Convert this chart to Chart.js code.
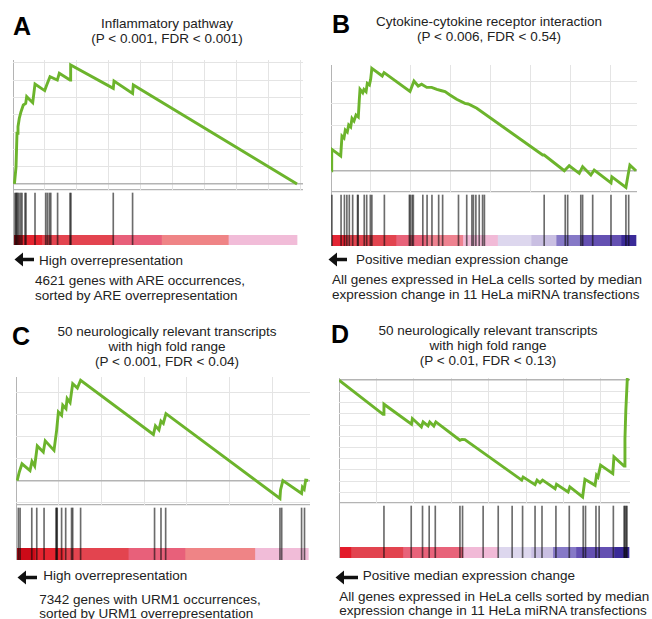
<!DOCTYPE html>
<html><head><meta charset="utf-8">
<script src="https://cdn.jsdelivr.net/npm/chart.js@4.4.1/dist/chart.umd.min.js"></script>
<style>
html,body{margin:0;padding:0;background:#fff;}
body{width:652px;height:619px;position:relative;overflow:hidden;font-family:"Liberation Sans",Arial,sans-serif;color:#222;}
.abs{position:absolute;}
.letter{font-weight:bold;font-size:25px;line-height:25px;color:#000;}
.t{font-size:13.5px;line-height:15px;white-space:nowrap;}
.t3{line-height:15.3px;}
.c{text-align:center;transform:translateX(-50%);}
canvas{position:absolute;}
</style></head><body>

<div class="abs letter" style="left:13px;top:14px">A</div>
<div class="abs t c" style="left:167px;top:16px">Inflammatory pathway<br>(P &lt; 0.001, FDR &lt; 0.001)</div>
<div class="abs letter" style="left:332px;top:12px">B</div>
<div class="abs t c" style="left:489px;top:13.5px">Cytokine-cytokine receptor interaction<br>(P &lt; 0.006, FDR &lt; 0.54)</div>
<div class="abs letter" style="left:12px;top:324px">C</div>
<div class="abs t t3 c" style="left:167px;top:323.5px">50 neurologically relevant transcripts<br>with high fold range<br>(P &lt; 0.001, FDR &lt; 0.04)</div>
<div class="abs letter" style="left:331px;top:322px">D</div>
<div class="abs t t3 c" style="left:488px;top:322.5px">50 neurologically relevant transcripts<br>with high fold range<br>(P &lt; 0.01, FDR &lt; 0.13)</div>

<svg class="abs" style="left:14px;top:252px" width="21" height="15"><polygon points="0.5,7.5 9,0.5 9,5.7 20,5.7 20,9.3 9,9.3 9,14.5" fill="#111"/></svg>
<div class="abs t" style="left:39px;top:252.5px">High overrepresentation</div>
<div class="abs t" style="left:35px;top:274.2px;line-height:14.7px">4621 genes with ARE occurrences,<br>sorted by ARE overrepresentation</div>

<svg class="abs" style="left:328px;top:251.5px" width="21" height="15"><polygon points="0.5,7.5 9,0.5 9,5.7 19,5.7 19,9.3 9,9.3 9,14.5" fill="#111"/></svg>
<div class="abs t" style="left:356px;top:251.8px">Positive median expression change</div>
<div class="abs t" style="left:332px;top:273.2px;line-height:14.5px">All genes expressed in HeLa cells sorted by median<br>expression change in 11 HeLa miRNA transfections</div>

<svg class="abs" style="left:17px;top:569.5px" width="22" height="15"><polygon points="0.5,7.5 9,0.5 9,5.7 20,5.7 20,9.3 9,9.3 9,14.5" fill="#111"/></svg>
<div class="abs t" style="left:43.3px;top:568.2px">High overrepresentation</div>
<div class="abs t" style="left:39.3px;top:592.5px;line-height:14px">7342 genes with URM1 occurrences,<br>sorted by URM1 overrepresentation</div>

<svg class="abs" style="left:335px;top:569.5px" width="25" height="15"><polygon points="0.5,7.5 9,0.5 9,5.7 23,5.7 23,9.3 9,9.3 9,14.5" fill="#111"/></svg>
<div class="abs t" style="left:362.7px;top:567.5px">Positive median expression change</div>
<div class="abs t" style="left:339.3px;top:590.2px;line-height:14px">All genes expressed in HeLa cells sorted by median<br>expression change in 11 HeLa miRNA transfections</div>

<script>
// ---- Data (x = position in ranked gene list, % of list; y = running enrichment score) ----
const rankA = [0.5, 1.06, 1.41, 1.76, 2.22, 2.82, 3.63, 4.47, 4.82, 6.94, 7.75, 11.16, 11.87, 13.03, 15.6, 16.3, 20.07, 20.2, 20.4, 35.3, 35.56, 42.1, 42.36, 100];
const esA   = [0, 0.097, 0.293, 0.331, 0.380, 0.418, 0.457, 0.466, 0.505, 0.470, 0.578, 0.540, 0.572, 0.620, 0.601, 0.640, 0.601, 0.618, 0.688, 0.553, 0.595, 0.524, 0.572, 0];
const hitsA = [0.7, 1.06, 1.29, 1.64, 2.11, 2.7, 3.17, 4.23, 4.58, 7.75, 11.5, 12.1, 12.8, 13.3, 15.7, 20.07, 20.4, 35.3, 42.1];
const barEdgesA = [0, 2.5, 10.1, 35.3, 52.3, 75.8, 100];

const rankB = [0.2, 0.23, 3.18, 3.6, 4.26, 4.69, 5.34, 5.8, 6.46, 6.89, 7.54, 8.2, 8.95, 9.28, 9.51, 10.4, 10.8, 11.5, 11.9, 12.6, 13.0, 13.4, 16.8, 17.4, 25.9, 27.2, 28.6, 29.7, 31.4, 33.0, 34.7, 36.3, 37.4, 39.0, 41.2, 43.9, 45.0, 47.8, 69.4, 69.9, 76.5, 78.1, 81.4, 82.5, 85.2, 86.3, 91.8, 92.1, 96.7, 97.3, 98.0, 100];
const esB   = [0, 0.096, 0.066, 0.155, 0.146, 0.182, 0.173, 0.204, 0.195, 0.234, 0.222, 0.249, 0.240, 0.316, 0.363, 0.348, 0.363, 0.353, 0.390, 0.383, 0.408, 0.457, 0.423, 0.438, 0.354, 0.400, 0.378, 0.386, 0.372, 0.372, 0.363, 0.357, 0.353, 0.338, 0.319, 0.301, 0.298, 0.279, 0.070, 0.070, 0.0, 0.022, -0.012, 0.018, -0.019, 0.003, -0.054, -0.027, -0.074, -0.027, 0.025, 0];
const hitsB = [0.3, 3.3, 4.4, 5.2, 6.0, 7.1, 8.7, 8.9, 10.9, 11.7, 12.9, 13.4, 17.5, 25.7, 26.0, 26.6, 27.0, 30.1, 31.5, 33.1, 35.3, 36.6, 41.8, 44.5, 46.2, 46.7, 47.5, 48.6, 49.7, 50.3, 69.9, 76.8, 77.6, 81.9, 82.5, 85.8, 91.8, 96.7, 97.6];
const barEdgesB = [0, 4.9, 21.3, 31.1, 43.2, 54.6, 65.6, 73.8, 82.0, 95.1, 100];

const rankC = [0.4, 1.13, 2.05, 4.79, 5.47, 6.39, 7.28, 9.33, 10.0, 13.0, 13.9, 14.5, 15.6, 16.0, 17.1, 17.5, 18.5, 19.4, 21.0, 22.1, 47.0, 47.7, 48.9, 49.6, 50.4, 51.3, 90.3, 90.5, 91.3, 97.7, 98.0, 98.6, 99.1, 99.9];
const esC   = [0, 0.039, 0.076, 0.045, 0.087, 0.066, 0.157, 0.130, 0.180, 0.137, 0.228, 0.311, 0.296, 0.342, 0.326, 0.372, 0.354, 0.440, 0.420, 0.455, 0.209, 0.248, 0.230, 0.270, 0.259, 0.304, -0.081, -0.043, 0.0, -0.059, -0.030, -0.039, 0.002, 0];
const hitsC = [0.8, 1.4, 5.4, 7.1, 9.6, 13.7, 13.9, 14.1, 15.6, 17.0, 19.0, 19.4, 22.1, 47.4, 49.6, 51.2, 90.3, 90.9, 97.7, 98.7];
const barEdgesC = [0, 6.5, 16.2, 38.4, 57.8, 81.7, 100];

const rankD = [0, 15.2, 15.5, 25.0, 25.3, 28.4, 29.0, 30.7, 31.3, 32.7, 33.4, 41.7, 42.4, 43.4, 63.0, 63.5, 67.6, 68.3, 69.3, 70.2, 74.5, 75.0, 79.0, 79.6, 84.0, 84.8, 88.3, 88.8, 89.3, 90.2, 94.4, 94.8, 98.3, 98.6, 98.9, 99.4, 100];
const esD   = [0, -0.152, -0.107, -0.196, -0.171, -0.208, -0.186, -0.204, -0.186, -0.204, -0.186, -0.268, -0.264, -0.265, -0.446, -0.432, -0.466, -0.446, -0.458, -0.446, -0.484, -0.464, -0.499, -0.476, -0.521, -0.442, -0.469, -0.424, -0.432, -0.379, -0.417, -0.342, -0.383, -0.261, -0.134, 0.004, 0];
const hitsD = [15.5, 24.9, 28.8, 31.1, 33.2, 41.7, 42.6, 49.7, 54.9, 59.7, 63.3, 67.6, 70.0, 74.8, 79.4, 84.2, 85.0, 88.6, 89.7, 94.6, 98.3, 98.6, 99.0, 99.3];
const barEdgesD = [0, 4.1, 22.0, 42.7, 54.7, 66.2, 73.7, 81.7, 94.9, 100];

// ---- Styles / layout ----
const GREEN = '#6cb42c', GRID = '#e4e4e4', AXIS = '#b4b4b4', HIT = 'rgba(10,10,10,0.6)';
const REDS = ['#cc0a18', '#e5242f', '#e3444f', '#e8607a', '#ef8486', '#f1bcd8'];
const barColorsA = REDS, barColorsC = REDS;
const barColorsB = ['#e32534', '#e2444f', '#e8637a', '#ee8290', '#f1bad7', '#ddd7ee', '#c9bfe2', '#8679c7', '#6450b2', '#3a2a98'];
const barColorsD = ['#e31b2a', '#e2444f', '#e8637a', '#f1bad7', '#ddd7ee', '#c9bfe2', '#8679c7', '#6450b2', '#3a2a98'];

const GEOM = {
  A: {left:13, right:303, top:60, bottom:190, barTop:235, barBottom:245, xMax:102.1, yMin:-0.035, yMax:0.717, yStep:0.1, xStep:11.23},
  B: {left:331, right:637, top:65, bottom:192, barTop:235, barBottom:246, xMax:100.33, yMin:-0.095, yMax:0.472, yStep:0.1, xStep:13.11},
  C: {left:16, right:310, top:377, bottom:505, barTop:548, barBottom:560, xMax:100.58, yMin:-0.111, yMax:0.470, yStep:0.1, xStep:14.6},
  D: {left:339, right:630, top:378, bottom:503, barTop:547, barBottom:558, xMax:100.34, yMin:-0.548, yMax:0.010, yStep:0.05, xStep:12.9}
};

function mkCanvas(left, top, w, h, z) {
  const c = document.createElement('canvas');
  c.width = Math.round(w); c.height = Math.round(h);
  c.style.left = left + 'px'; c.style.top = top + 'px';
  c.style.width = Math.round(w) + 'px'; c.style.height = Math.round(h) + 'px';
  c.style.zIndex = z;
  document.body.appendChild(c);
  return c.getContext('2d');
}
const base = {responsive:false, animation:false, events:[], devicePixelRatio:1,
  plugins:{legend:{display:false}, tooltip:{enabled:false}}};

function stepTicks(min, max, step) {
  const t = [];
  const start = Math.ceil((min - 1e-9) / step);
  for (let k = start; k * step <= max + 1e-9; k++) t.push({value: +(k * step).toFixed(6)});
  return t;
}

function drawPanel(g, rank, es, hits, edges, colors) {
  const W = g.right - g.left;
  // Running enrichment score
  new Chart(mkCanvas(g.left - 1, g.top, W + 1, g.bottom - g.top, 3), {
    type: 'line',
    data: {datasets: [{data: rank.map((x, i) => ({x, y: es[i]})), borderColor: GREEN, borderWidth: 2.9,
      pointRadius: 0, tension: 0, fill: false, borderJoinStyle: 'miter'}]},
    options: Object.assign({}, base, {
      layout: {padding: {left: 1, top: 0, right: 0, bottom: 0}},
      scales: {
        x: {type: 'linear', min: 0, max: g.xMax, bounds: 'data', ticks: {display: false}, border: {display: false},
          grid: {drawTicks: false, color: c => (c.tick && c.tick.value === 0) ? AXIS : GRID},
          afterBuildTicks: s => { s.ticks = stepTicks(0, g.xMax, g.xStep); },
          afterFit: s => { s.height = 0; }},
        y: {type: 'linear', min: g.yMin, max: g.yMax, bounds: 'data', ticks: {display: false}, border: {display: false},
          grid: {drawTicks: false, color: c => (c.tick && c.tick.value === 0) ? AXIS : GRID,
                 lineWidth: c => (c.tick && c.tick.value === 0) ? 1.5 : 1},
          afterBuildTicks: s => { s.ticks = stepTicks(g.yMin, g.yMax, g.yStep); },
          afterFit: s => { s.width = 0; }}
      }
    })
  });
  // Colour bar of the ranked list
  const widths = edges.slice(1).map((e, i) => e - edges[i]);
  new Chart(mkCanvas(g.left - 1, g.barTop, W + 1, g.barBottom - g.barTop, 1), {
    type: 'bar',
    data: {labels: ['list'], datasets: widths.map((w, i) => ({data: [w], backgroundColor: colors[i], borderWidth: 0,
      barPercentage: 1, categoryPercentage: 1}))},
    options: Object.assign({}, base, {
      indexAxis: 'y',
      layout: {padding: {left: 1, top: 0, right: 0, bottom: 0}},
      scales: {x: {type: 'linear', stacked: true, min: 0, max: g.xMax, display: false},
               y: {stacked: true, display: false}}
    })
  });
  // Gene set hits
  const hH = g.barBottom - g.bottom;
  const hitTop = 1 - 3 / hH;
  new Chart(mkCanvas(g.left - 1, g.bottom - 1, W + 1, hH + 1, 2), {
    type: 'bar',
    data: {datasets: [{data: hits.map(x => ({x, y: hitTop})), backgroundColor: HIT, barThickness: 1, borderWidth: 0}]},
    options: Object.assign({}, base, {
      layout: {padding: {left: 1, top: 1, right: 0, bottom: 0}},
      scales: {
        x: {type: 'linear', min: 0, max: g.xMax, offset: false, bounds: 'data', ticks: {display: false}, border: {display: false},
          grid: {drawTicks: false, offset: false, color: AXIS},
          afterBuildTicks: s => { s.ticks = [{value: 0}]; },
          afterFit: s => { s.height = 0; }},
        y: {type: 'linear', min: 0, max: 1, bounds: 'data', ticks: {display: false}, border: {display: false},
          grid: {drawTicks: false, color: AXIS, lineWidth: 1.3},
          afterBuildTicks: s => { s.ticks = [{value: 1}]; },
          afterFit: s => { s.width = 0; }}
      }
    })
  });
}

drawPanel(GEOM.A, rankA, esA, hitsA, barEdgesA, barColorsA);
drawPanel(GEOM.B, rankB, esB, hitsB, barEdgesB, barColorsB);
drawPanel(GEOM.C, rankC, esC, hitsC, barEdgesC, barColorsC);
drawPanel(GEOM.D, rankD, esD, hitsD, barEdgesD, barColorsD);
</script>
</body></html>
